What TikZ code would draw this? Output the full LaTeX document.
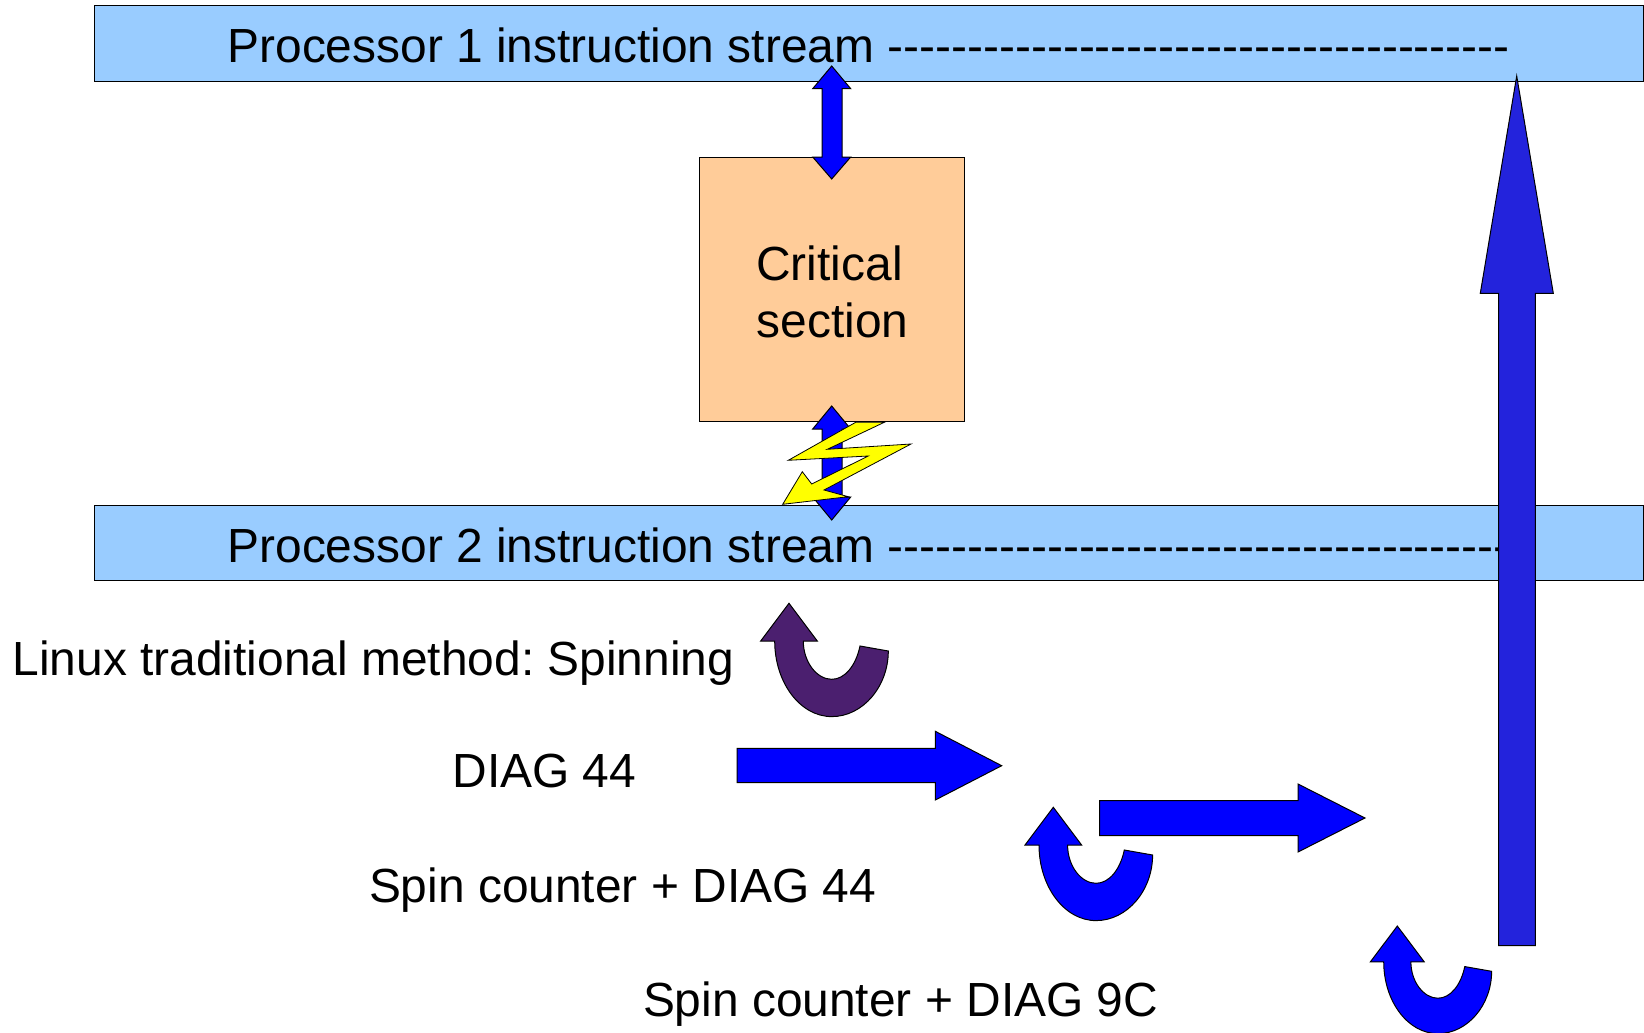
\documentclass[tikz,border=0pt]{standalone}
\usepackage{fontspec}
\newfontfamily\lib{Liberation Sans}
\newcommand{\dashline}{---------------------------------------}
\frenchspacing
\tikzset{
  outl/.style={draw=black,line width=1pt,line join=miter},
  bar/.style={outl,fill=barblue},
  lab/.style={anchor=base west,inner sep=0pt,outer sep=0pt,font=\lib\fontsize{47.9}{58}\selectfont,text=black},
  clab/.style={anchor=base,inner sep=0pt,outer sep=0pt,font=\lib\fontsize{47.9}{58}\selectfont,text=black},
  pics/uturn/.style={code={
    \path[outl,fill=#1] (0,0) -- (28.3,37.7) -- (14.3,37.7)
      .. controls (14.3,59) and (28,76) .. (42.7,76)
      .. controls (56,76) and (67,62) .. (71,42.7)
      -- (99.3,47.7)
      .. controls (99.3,83) and (74,113.3) .. (42.7,113.3)
      .. controls (11,113.3) and (-14.3,79) .. (-14.3,37.7)
      -- (-28.3,37.7) -- cycle;
  }}
}
\definecolor{barblue}{HTML}{99CCFF}
\definecolor{boxorange}{HTML}{FFCC99}
\definecolor{purp}{HTML}{4B1F6F}
\definecolor{bigblue}{HTML}{2323DC}
\definecolor{bolt}{HTML}{FFFF00}
\definecolor{pureblue}{HTML}{0000FF}
\begin{document}
\begin{tikzpicture}[x=1pt,y=-1pt]
\useasboundingbox (0,0) rectangle (1644,1033);
\clip (0,0) rectangle (1644,1033);
% bars and box
\path[bar] (94.5,6) rectangle (1643.5,81.5);
\path[bar] (94.5,505) rectangle (1643.5,580);
\path[outl,fill=boxorange] (699.5,157) rectangle (964,421.5);
% texts
\node[lab] (p1) at (227.5,63) {Processor 1 instruction stream \dashline};
\node[lab] (p2) at (227.5,562.5) {Processor 2 instruction stream \dashline-};
\node[clab] (cs1) at (829.5,280.5) {Critical};
\node[clab] (cs2) at (832.5,337.5) {section};
\node[lab] (l1) at (12.6,675) {Linux traditional method: Spinning};
\node[lab] (l2) at (452.5,787.5) {DIAG 44};
\node[lab] (l3) at (369,902) {Spin counter + DIAG 44};
\node[lab] (l4) at (643,1016) {Spin counter + DIAG 9C};
% double arrows
\path[outl,fill=pureblue] (831.7,66) -- (850.7,88.7) -- (842,88.7) -- (842,157) -- (850.7,157) -- (831.7,179)
  -- (812.7,157) -- (822,157) -- (822,88.7) -- (812.7,88.7) -- cycle;
\path[outl,fill=pureblue] (831.7,406) -- (850.7,429) -- (842,429) -- (842,497) -- (850.7,497) -- (831.7,520)
  -- (812.7,497) -- (822,497) -- (822,429) -- (812.7,429) -- cycle;
% lightning
\path[outl,fill=bolt,line width=0.8pt] (855.7,422.3) -- (884.3,422.3) -- (827.3,449.3) -- (911,444)
  -- (824,490) -- (848.3,496.7) -- (782.7,504.3) -- (802.3,471.7) -- (811.7,484) -- (868.3,456)
  -- (788.3,460.3) -- cycle;
% u-turn arrows
\pic at (789,603.3) {uturn=purp};
\pic at (1053.3,807.3) {uturn=pureblue};
\pic[scale=.95] at (1397.3,926) {uturn=pureblue};
% straight arrows
\path[outl,fill=pureblue] (737,748.3) -- (935.3,748.3) -- (935.3,731.3) -- (1001.7,765.7) -- (935.3,800)
  -- (935.3,782.7) -- (737,782.7) -- cycle;
\path[outl,fill=pureblue] (1099.5,800.7) -- (1298,800.7) -- (1298,784) -- (1365,818) -- (1298,852)
  -- (1298,835.7) -- (1099.5,835.7) -- cycle;
\path[outl,fill=bigblue] (1516.7,76) -- (1553.3,293.3) -- (1535.3,293.3) -- (1535.3,945.7) -- (1498.7,945.7)
  -- (1498.7,293.3) -- (1480.3,293.3) -- cycle;
\end{tikzpicture}
\end{document}
